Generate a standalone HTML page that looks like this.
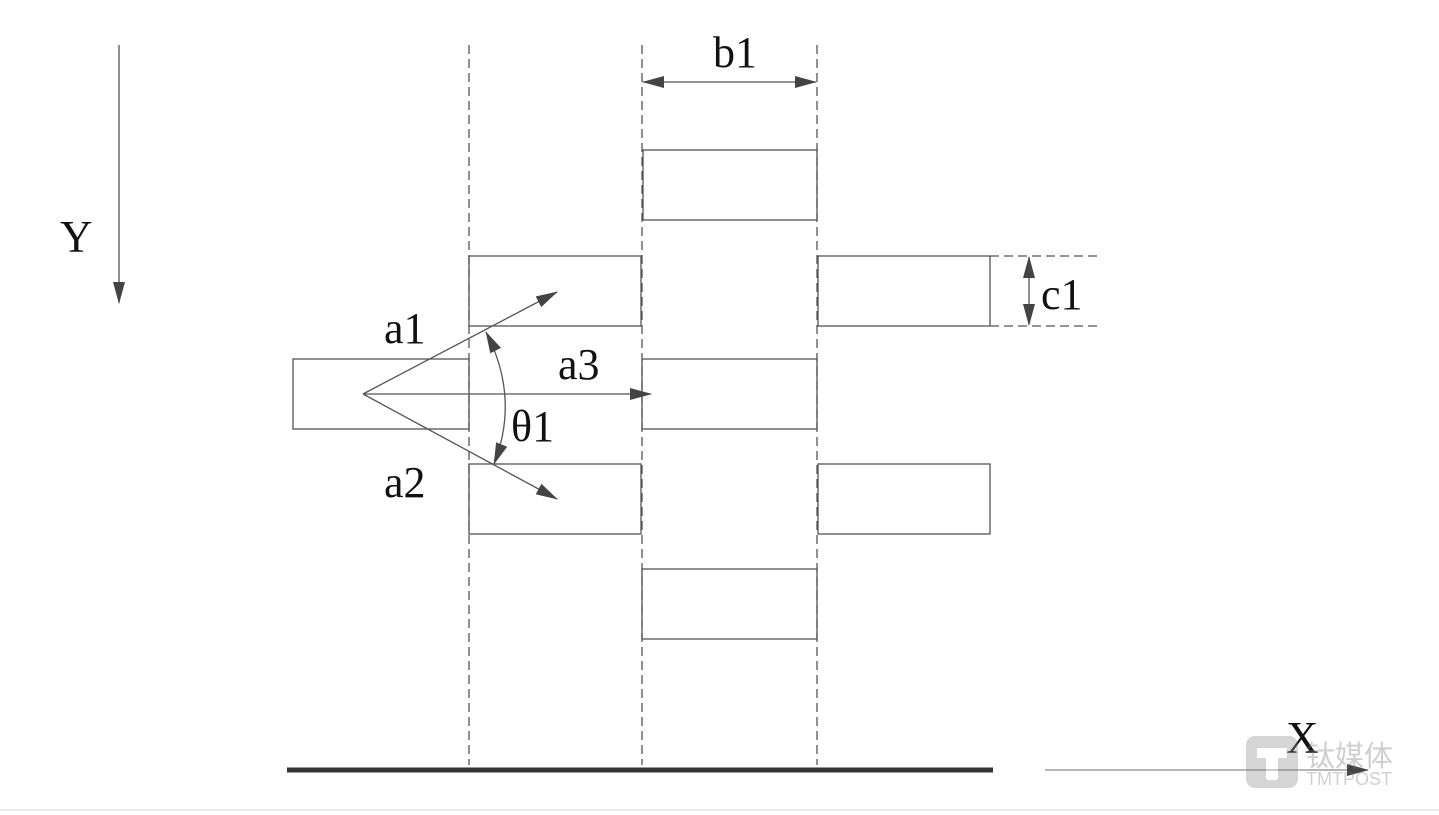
<!DOCTYPE html>
<html><head><meta charset="utf-8"><style>
html,body{margin:0;padding:0;background:#fff;}
svg{display:block;}
text{font-family:"Liberation Serif",serif;fill:#111;}
</style></head><body>
<svg width="1439" height="815" viewBox="0 0 1439 815" xmlns="http://www.w3.org/2000/svg">
<defs>
<marker id="ah" viewBox="0 0 22 12" refX="21" refY="6" markerWidth="22" markerHeight="12" markerUnits="userSpaceOnUse" orient="auto-start-reverse">
<path d="M0,0 L22,6 L0,12 Z" fill="#444"/></marker>
</defs>
<rect x="0" y="0" width="1439" height="815" fill="#fff"/>
<g stroke="#555" stroke-width="1.3" fill="none">
<line x1="119" y1="45" x2="119" y2="303" marker-end="url(#ah)"/>
<g stroke-dasharray="9,5">
<line x1="469" y1="45" x2="469" y2="765"/>
<line x1="642" y1="45" x2="642" y2="765"/>
<line x1="817" y1="45" x2="817" y2="765"/>
<line x1="990" y1="256" x2="1100" y2="256"/>
<line x1="990" y1="326" x2="1100" y2="326"/>
</g>
<line x1="643" y1="82" x2="816" y2="82" marker-start="url(#ah)" marker-end="url(#ah)"/>
<rect x="643" y="150" width="174" height="70"/>
<rect x="469" y="256" width="172" height="70"/>
<rect x="469" y="464" width="172" height="70"/>
<rect x="642" y="359" width="175" height="70"/>
<rect x="642" y="569" width="175" height="70"/>
<rect x="818" y="256" width="172" height="70"/>
<rect x="818" y="464" width="172" height="70"/>
<rect x="293" y="359" width="176" height="70"/>
<line x1="1029" y1="257" x2="1029" y2="325" marker-start="url(#ah)" marker-end="url(#ah)"/>
<line x1="363" y1="394" x2="557" y2="292" marker-end="url(#ah)"/>
<line x1="363" y1="394" x2="557" y2="499" marker-end="url(#ah)"/>
<line x1="363" y1="394" x2="651" y2="394" marker-end="url(#ah)"/>
<path d="M486,332 Q520,398 494,464" marker-start="url(#ah)" marker-end="url(#ah)"/>
<line x1="1045" y1="770" x2="1368" y2="770" stroke="#888" marker-end="url(#ah)"/>
</g>
<line x1="287" y1="770" x2="993" y2="770" stroke="#333" stroke-width="5"/>
<line x1="0" y1="810" x2="1439" y2="810" stroke="#e8ecee" stroke-width="2"/>
<text x="60" y="252" font-size="45">Y</text>
<text x="713" y="67" font-size="44">b1</text>
<text x="1041" y="309" font-size="44">c1</text>
<text x="384" y="343" font-size="44">a1</text>
<text x="558" y="379" font-size="44">a3</text>
<text x="511" y="441" font-size="44">θ1</text>
<text x="384" y="497" font-size="44">a2</text>
<text x="1286" y="753" font-size="45">X</text>
<g opacity="0.35">
<rect x="1246" y="736" width="52" height="52" rx="9" fill="#888"/>
<rect x="1257" y="748" width="30" height="10" fill="#fff"/>
<rect x="1266" y="748" width="12" height="32" rx="3" fill="#fff"/>
<text x="1306" y="766" font-size="29" style="font-family:'Noto Sans CJK SC',sans-serif;fill:#777">钛媒体</text>
<text x="1306" y="785" font-size="18" style="font-family:'Liberation Sans',sans-serif;fill:#777">TMTPOST</text>
</g>
</svg>
</body></html>
